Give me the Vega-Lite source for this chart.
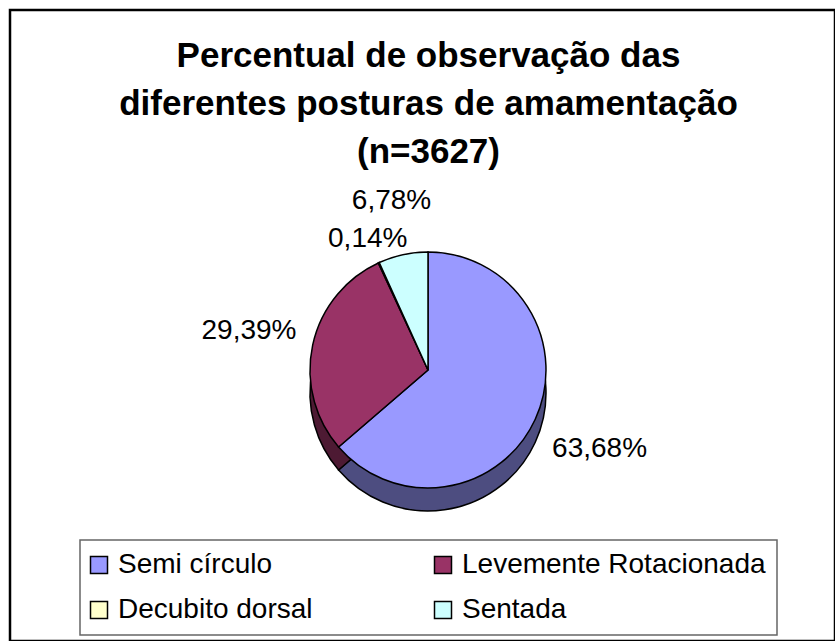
{
  "$schema": "https://vega.github.io/schema/vega-lite/v6.json",
  "width": 825,
  "height": 631,
  "autosize": {"type": "none"},
  "padding": {"left": 10, "top": 10, "right": 0, "bottom": 0},
  "background": "white",
  "title": {
    "text": ["Percentual de observação das", "diferentes posturas de amamentação", "(n=3627)"],
    "anchor": "middle",
    "font": "Liberation Sans",
    "fontSize": 35,
    "fontWeight": "bold",
    "lineHeight": 48,
    "color": "black",
    "offset": -160,
    "dx": 6
  },
  "data": {
    "values": [
      {"postura": "Semi círculo", "valor": 0.6368, "ord": 1},
      {"postura": "Levemente Rotacionada", "valor": 0.2939, "ord": 2},
      {"postura": "Decubito dorsal", "valor": 0.0014, "ord": 3},
      {"postura": "Sentada", "valor": 0.0678, "ord": 4}
    ]
  },
  "layer": [
    {
      "mark": {"type": "arc", "radius": 118, "stroke": "black", "strokeWidth": 1.5},
      "encoding": {
        "x": {"value": 418},
        "y": {"value": 383},
        "theta": {"field": "valor", "type": "quantitative", "stack": true},
        "order": {"field": "ord", "type": "quantitative"},
        "color": {
          "field": "postura",
          "type": "nominal",
          "scale": {
            "domain": ["Semi círculo", "Levemente Rotacionada", "Decubito dorsal", "Sentada"],
            "range": ["#4D4D80", "#4D1A33", "#808066", "#668080"]
          },
          "legend": null
        }
      }
    },
    {
      "mark": {"type": "arc", "radius": 118, "stroke": "black", "strokeWidth": 1.5},
      "encoding": {
        "x": {"value": 418},
        "y": {"value": 360},
        "theta": {"field": "valor", "type": "quantitative", "stack": true},
        "order": {"field": "ord", "type": "quantitative"},
        "color": {
          "field": "postura",
          "type": "nominal",
          "scale": {
            "domain": ["Semi círculo", "Levemente Rotacionada", "Decubito dorsal", "Sentada"],
            "range": ["#9999FF", "#993366", "#FFFFCC", "#CCFFFF"]
          },
          "legend": {
            "orient": "none",
            "direction": "horizontal",
            "legendX": 70,
            "legendY": 530,
            "columns": 2,
            "title": null
          }
        }
      }
    },
    {
      "mark": {"type": "text", "font": "Liberation Sans", "fontSize": 28, "color": "black", "align": "center", "baseline": "middle"},
      "encoding": {
        "x": {"value": 418},
        "y": {"value": 360},
        "theta": {"field": "valor", "type": "quantitative", "stack": true},
        "order": {"field": "ord", "type": "quantitative"},
        "radius": {"field": "valor", "type": "quantitative", "scale": {"type": "log", "domain": [0.001, 1], "range": [142, 192]}},
        "text": {"field": "valor", "type": "quantitative", "format": ".2%"}
      }
    }
  ],
  "resolve": {"scale": {"color": "independent"}},
  "config": {
    "view": {"stroke": "black", "strokeWidth": 2.5},
    "locale": {"number": {"decimal": ",", "thousands": ".", "grouping": [3], "currency": ["R$", ""]}},
    "legend": {
      "padding": 11,
      "strokeColor": "#666666",
      "strokeWidth": 1.5,
      "columnPadding": 118,
      "rowPadding": 17,
      "labelFont": "Liberation Sans",
      "labelFontSize": 28,
      "labelColor": "black",
      "labelLimit": 500,
      "labelOffset": 5,
      "symbolOffset": -6,
      "symbolType": "square",
      "symbolSize": 289,
      "symbolStrokeColor": "black",
      "symbolStrokeWidth": 1.5
    }
  }
}
